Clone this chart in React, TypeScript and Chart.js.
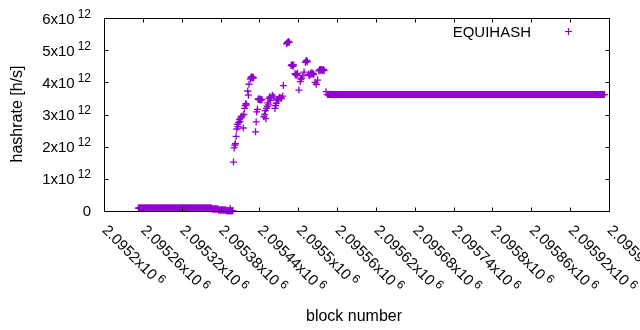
import React, { useEffect, useRef } from "react";
import { Chart, registerables } from "chart.js";

Chart.register(...registerables);

const seriesName = "EQUIHASH";
const xTitle = "block number";
const yTitle = "hashrate [h/s]";
const seriesColor = "#9400d3";

const xTicks = [
  2095200, 2095260, 2095320, 2095380, 2095440, 2095500, 2095560, 2095620,
  2095680, 2095740, 2095800, 2095860, 2095920, 2095980,
];
const yTicks = [0, 1e12, 2e12, 3e12, 4e12, 5e12, 6e12];

// Runs of (nearly) constant hashrate, one point per block
const runStart = [2095253, 2095367, 2095377, 2095389, 2095545];
const runEnd = [2095366, 2095376, 2095388, 2095399, 2095973];
const runValue = [0.09e12, 0.06e12, 0.03e12, 0.01e12, 3.62e12];

// Individual blocks in the transition region (values in 10^12 h/s)
const pointBlocks = [
  2095395, 2095400, 2095401, 2095402, 2095403, 2095404, 2095405, 2095406, 2095407,
  2095408, 2095409, 2095410, 2095411, 2095412, 2095413, 2095415, 2095416, 2095417,
  2095418, 2095419, 2095420, 2095422, 2095423, 2095424, 2095426, 2095427, 2095428,
  2095429, 2095430, 2095431, 2095434, 2095435, 2095436, 2095437, 2095438, 2095439,
  2095440, 2095441, 2095442, 2095443, 2095444, 2095447, 2095448, 2095449, 2095450,
  2095451, 2095452, 2095453, 2095454, 2095455, 2095456, 2095457, 2095458, 2095460,
  2095462, 2095464, 2095465, 2095466, 2095468, 2095469, 2095470, 2095471, 2095473,
  2095474, 2095476, 2095477, 2095482, 2095483, 2095484, 2095485, 2095486, 2095489,
  2095490, 2095491, 2095492, 2095493, 2095495, 2095496, 2095497, 2095498, 2095499,
  2095501, 2095503, 2095504, 2095505, 2095507, 2095509, 2095511, 2095512, 2095513,
  2095514, 2095516, 2095517, 2095518, 2095519, 2095520, 2095521, 2095522, 2095523,
  2095524, 2095526, 2095528, 2095530, 2095532, 2095533, 2095534, 2095535, 2095536,
  2095537, 2095538, 2095539, 2095540, 2095543,
];
const pointValues = [
  0.08, 1.52, 1.96, 2.05, 2.09, 2.32, 2.55, 2.69, 2.62,
  2.75, 2.84, 2.78, 2.88, 2.93, 2.95, 2.58, 3.0, 3.19,
  3.28, 3.34, 3.3, 3.73, 3.6, 3.94, 4.1, 4.15, 4.17,
  4.13, 4.16, 4.14, 2.46, 2.77, 3.08, 3.16, 3.47, 3.49,
  3.46, 3.48, 3.45, 3.47, 3.46, 2.93, 3.0, 3.12, 2.87,
  3.19, 3.25, 3.36, 3.3, 3.5, 3.55, 3.44, 3.52, 3.6,
  3.55, 3.19, 3.28, 3.35, 3.47, 3.44, 3.49, 3.54, 3.52,
  3.5, 3.57, 3.9, 5.2, 5.23, 5.25, 5.27, 5.24, 4.52,
  4.55, 4.53, 4.5, 4.54, 4.27, 4.23, 4.25, 4.22, 4.28,
  3.76, 4.02, 4.1, 4.13, 4.2, 4.32, 4.62, 4.66, 4.68,
  4.64, 4.25, 4.22, 4.23, 4.27, 4.3, 4.25, 4.28, 4.27,
  4.24, 4.0, 3.94, 4.07, 4.36, 4.38, 4.4, 4.37, 4.39,
  4.38, 4.36, 4.4, 4.37, 3.71,
];

function buildPoints() {
  const pts: { x: number; y: number }[] = [];
  for (let r = 0; r < runStart.length; r++) {
    for (let b = runStart[r]; b <= runEnd[r]; b++) pts.push({ x: b, y: runValue[r] });
  }
  for (let i = 0; i < pointBlocks.length; i++) pts.push({ x: pointBlocks[i], y: pointValues[i] * 1e12 });
  pts.sort((a, b) => a.x - b.x);
  return pts;
}

const FONT = '"Liberation Sans", Arial, sans-serif';
const MAIN = 15;
const SUP = 12;

const gnuFrame = {
  id: "gnuFrame",
  afterDatasetsDraw(chart: any) {
    const ctx: CanvasRenderingContext2D = chart.ctx;
    const { left, right, top, bottom } = chart.chartArea;
    const xs = chart.scales.x;
    const ys = chart.scales.y;
    const L = Math.round(left) + 0.5;
    const R = Math.round(right) + 0.5;
    const T = Math.round(top) + 0.5;
    const B = Math.round(bottom) + 0.5;
    ctx.save();
    ctx.strokeStyle = "#000";
    ctx.lineWidth = 1;
    ctx.beginPath();
    ctx.rect(L, T, R - L, B - T);
    for (const v of xTicks) {
      const px = Math.round(xs.getPixelForValue(v)) + 0.5;
      ctx.moveTo(px, B);
      ctx.lineTo(px, B - 4);
      ctx.moveTo(px, T);
      ctx.lineTo(px, T + 4);
    }
    for (const v of yTicks) {
      const py = Math.round(ys.getPixelForValue(v)) + 0.5;
      ctx.moveTo(L, py);
      ctx.lineTo(L + 4, py);
      ctx.moveTo(R, py);
      ctx.lineTo(R - 4, py);
    }
    ctx.stroke();

    ctx.fillStyle = "#000";
    ctx.textBaseline = "alphabetic";
    // y tick labels
    for (const v of yTicks) {
      const py = ys.getPixelForValue(v);
      const rightX = L - 13.5;
      if (v === 0) {
        ctx.font = `${MAIN}px ${FONT}`;
        ctx.textAlign = "right";
        ctx.fillText("0", rightX, py + 5);
        continue;
      }
      const main = `${Math.round(v / 1e12)}x10`;
      const sup = "12";
      ctx.font = `${SUP}px ${FONT}`;
      const ws = ctx.measureText(sup).width;
      ctx.font = `${MAIN}px ${FONT}`;
      const wm = ctx.measureText(main).width;
      const startX = rightX - ws - 3 - wm;
      ctx.textAlign = "left";
      ctx.fillText(main, startX, py + 5.5);
      ctx.font = `${SUP}px ${FONT}`;
      ctx.fillText(sup, startX + wm + 3, py - 0.5);
    }
    // x tick labels, rotated 45 degrees clockwise
    for (const v of xTicks) {
      const px = xs.getPixelForValue(v);
      const main = `${parseFloat((v / 1e6).toFixed(6))}x10`;
      const sup = "6";
      ctx.save();
      ctx.translate(px - 2.5, B + 19.5);
      ctx.rotate(Math.PI / 4);
      ctx.textAlign = "left";
      ctx.font = `${MAIN}px ${FONT}`;
      const wm = ctx.measureText(main).width;
      ctx.fillText(main, 0, 0);
      ctx.font = `${SUP}px ${FONT}`;
      ctx.fillText(sup, wm + 3, -5);
      ctx.restore();
    }
    // axis titles
    ctx.font = `16px ${FONT}`;
    ctx.textAlign = "center";
    ctx.fillText(xTitle, 354, 321);
    ctx.save();
    ctx.translate(22, 114);
    ctx.rotate(-Math.PI / 2);
    ctx.fillText(yTitle, 0, 0);
    ctx.restore();
    // legend
    ctx.textAlign = "right";
    ctx.font = `15px ${FONT}`;
    ctx.fillText(seriesName, 531, 37);
    ctx.strokeStyle = seriesColor;
    ctx.lineWidth = 1.2;
    ctx.beginPath();
    ctx.moveTo(568.5, 28);
    ctx.lineTo(568.5, 35);
    ctx.moveTo(565, 31.5);
    ctx.lineTo(572, 31.5);
    ctx.stroke();
    ctx.restore();
  },
};

export default function App() {
  const ref = useRef<HTMLCanvasElement>(null);
  useEffect(() => {
    const chart = new Chart(ref.current as HTMLCanvasElement, {
      type: "scatter",
      data: {
        datasets: [
          {
            label: seriesName,
            data: buildPoints(),
            pointStyle: "cross",
            pointRadius: 3.5,
            pointHoverRadius: 3.5,
            borderColor: seriesColor,
            backgroundColor: seriesColor,
            borderWidth: 1.3,
            clip: false as any,
          },
        ],
      },
      options: {
        responsive: false,
        animation: false,
        events: [],
        layout: { padding: { left: 104, right: 31, top: 18, bottom: 119 } },
        plugins: { legend: { display: false }, tooltip: { enabled: false } },
        scales: {
          x: { type: "linear", display: false, min: xTicks[0], max: xTicks[xTicks.length - 1] },
          y: { type: "linear", display: false, min: 0, max: 6e12 },
        },
      },
      plugins: [gnuFrame],
    });
    return () => chart.destroy();
  }, []);
  return (
    <div style={{ position: "fixed", left: 0, top: 0, width: 640, height: 330, background: "#fff" }}>
      <canvas ref={ref} width={640} height={330} style={{ width: 640, height: 330, display: "block" }} />
    </div>
  );
}
